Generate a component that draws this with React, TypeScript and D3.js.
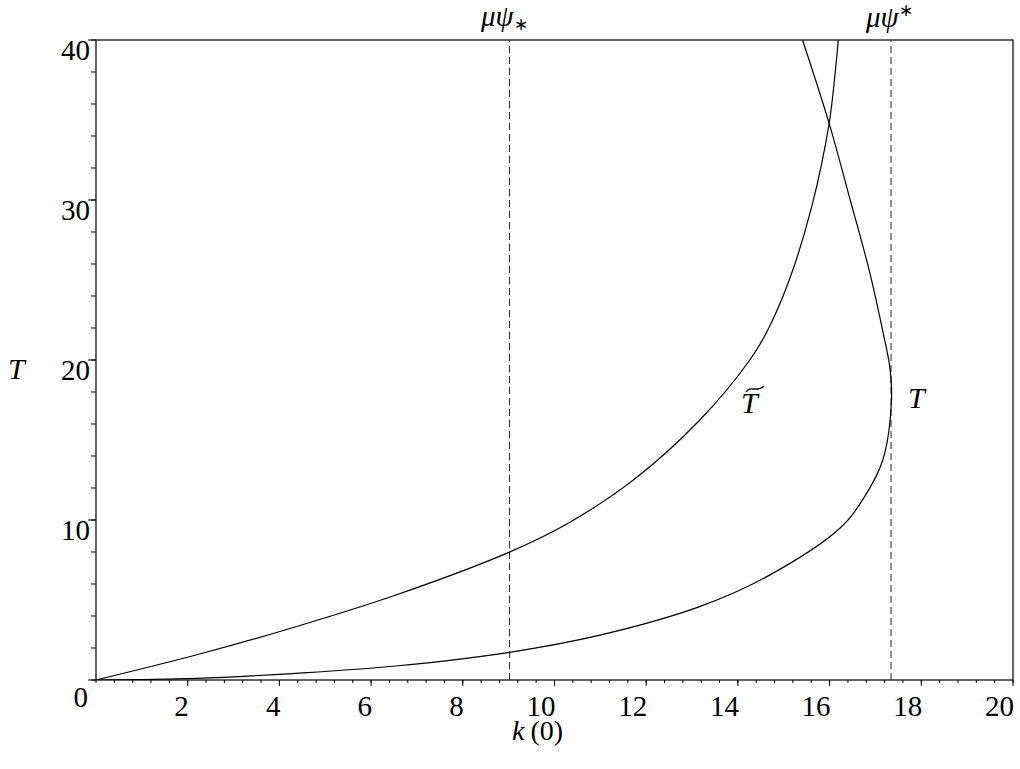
import React from "react";
import * as d3 from "d3";

// k(0) values, paired with T
const tK = [0, 2.18, 4.36, 6.54, 9.02, 10.99, 13.18, 14.63, 16.23, 16.75, 17.16, 17.35, 17.31, 17.17, 16.88, 16.45, 15.99, 15.41];
const tT = [0, 0.1, 0.42, 0.875, 1.73, 2.8, 4.6, 6.46, 9.5, 11.4, 13.75, 17.5, 19.6, 21.67, 25.42, 30, 34.79, 40];

const tildeK = [0, 2.18, 4.36, 6.54, 8.99, 10.27, 11.72, 13.17, 14.26, 14.63, 15.12, 15.61, 15.99, 16.12, 16.19];
const tildeT = [0, 1.56, 3.33, 5.31, 7.96, 9.75, 12.5, 16.25, 20.0, 21.75, 25.0, 29.58, 34.79, 37.92, 40];

const psiLow = 9.02;
const psiHigh = 17.34;

const xTicks = [2, 4, 6, 8, 10, 12, 14, 16, 18, 20];
const yTicks = [10, 20, 30, 40];

const FONT = "'Liberation Serif', 'Times New Roman', serif";

export default function App() {
  const x = d3.scaleLinear().domain([0, 20]).range([96, 1013]);
  const y = d3.scaleLinear().domain([0, 40]).range([680, 40]);

  const xMinor = d3.range(0, 20.001, 0.4);
  const yMinor = d3.range(0, 40.001, 2);

  const lineT = d3
    .line<number>()
    .x((_, i) => x(tK[i]))
    .y((t) => y(t))
    .curve(d3.curveCatmullRom.alpha(0.5));

  const lineTilde = d3
    .line<number>()
    .x((k) => x(k))
    .y((_, i) => y(tildeT[i]))
    .curve(d3.curveCatmullRom.alpha(0.5));

  return (
    <svg
      width={1020}
      height={769}
      style={{ position: "absolute", left: 0, top: 0, background: "#fff" }}
      fontFamily={FONT}
    >
      <defs>
        <clipPath id="plot">
          <rect x={x(0)} y={y(40)} width={x(20) - x(0)} height={y(0) - y(40)} />
        </clipPath>
      </defs>

      {/* frame */}
      <rect x={x(0)} y={y(40)} width={x(20) - x(0)} height={y(0) - y(40)} fill="none" stroke="#000" strokeWidth={1.2} />

      {/* x ticks */}
      {xMinor.map((v) => (
        <line key={"xm" + v} x1={x(v)} x2={x(v)} y1={y(0)} y2={y(0) + 3} stroke="#000" strokeWidth={1} />
      ))}
      {xTicks.map((v) => (
        <line key={"xM" + v} x1={x(v)} x2={x(v)} y1={y(0)} y2={y(0) + 6} stroke="#000" strokeWidth={1} />
      ))}
      {xTicks.map((v) => (
        <text key={"xl" + v} x={x(v) + 1} y={716} textAnchor="end" fontSize={29}>
          {v}
        </text>
      ))}

      {/* y ticks */}
      {yMinor.map((v) => (
        <line key={"ym" + v} x1={x(0) - 5} x2={x(0)} y1={y(v)} y2={y(v)} stroke="#000" strokeWidth={1} />
      ))}
      {[0, ...yTicks].map((v) => (
        <line key={"yM" + v} x1={x(0) - 8} x2={x(0)} y1={y(v)} y2={y(v)} stroke="#000" strokeWidth={1} />
      ))}
      {yTicks.map((v) => (
        <text key={"yl" + v} x={90} y={y(v) + 20} textAnchor="end" fontSize={29}>
          {v}
        </text>
      ))}
      <text x={88} y={707} textAnchor="end" fontSize={29}>0</text>

      {/* dashed reference lines */}
      {[psiLow, psiHigh].map((v) => (
        <line key={"d" + v} x1={x(v)} x2={x(v)} y1={y(0)} y2={y(40)} stroke="#222" strokeWidth={1} strokeDasharray="7,4" />
      ))}

      {/* curves */}
      <g clipPath="url(#plot)">
        <path d={lineT(tT) ?? ""} fill="none" stroke="#000" strokeWidth={1.2} />
        <path d={lineTilde(tildeK) ?? ""} fill="none" stroke="#000" strokeWidth={1.2} />
      </g>

      {/* curve labels */}
      <text x={741} y={413} fontSize={30} fontStyle="italic">T</text>
      <path d="M746,392 C750,385 757,393 764,386" fill="none" stroke="#000" strokeWidth={1.4} />
      <text x={908} y={408} fontSize={30} fontStyle="italic">T</text>

      {/* top labels */}
      <text x={481} y={26} fontSize={29} fontStyle="italic">
        μψ<tspan fontStyle="normal" fontSize={17} dy={4}>∗</tspan>
      </text>
      <text x={866} y={27} fontSize={29} fontStyle="italic">
        μψ<tspan fontStyle="normal" fontSize={17} dy={-11}>∗</tspan>
      </text>

      {/* axis titles */}
      <text x={512} y={740} fontSize={28}>
        <tspan fontStyle="italic">k</tspan>
        <tspan dx={6}>(0)</tspan>
      </text>
      <text x={8} y={379} fontSize={30} fontStyle="italic">T</text>
    </svg>
  );
}
